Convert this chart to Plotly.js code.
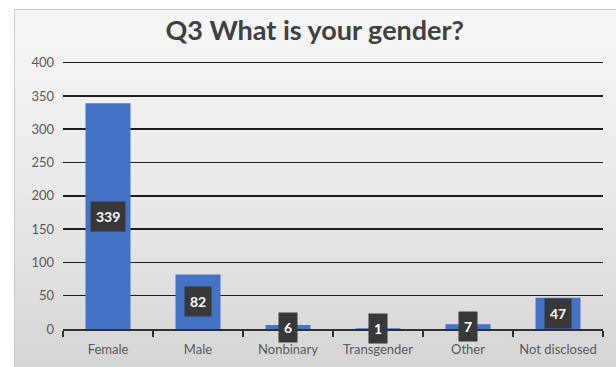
<!DOCTYPE html>
<html>
<head>
<meta charset="utf-8">
<script src="https://cdn.plot.ly/plotly-3.0.1.min.js"></script>
<style>
  html, body { margin: 0; padding: 0; background: #ffffff; width: 616px; height: 367px; overflow: hidden; }
  #panel { position: absolute; left: 14px; top: 9px; width: 616px; height: 370px;
           border-left: 1px solid #c9c9c9; border-top: 1px solid #c9c9c9;
           background: linear-gradient(to bottom, #f6f6f6 0%, #ebebeb 45%, #d4d4d4 100%); }
  #chart { position: absolute; left: 0; top: 0; width: 616px; height: 367px; }
</style>
</head>
<body>
<div id="panel"></div>
<div id="chart"></div>
<script>
const categories = ["Female", "Male", "Nonbinary", "Transgender", "Other", "Not disclosed"];
const counts = [339, 82, 6, 1, 7, 47];
const yTicks = [0, 50, 100, 150, 200, 250, 300, 350, 400];

const trace = {
  type: "bar",
  x: categories,
  y: counts,
  marker: { color: "#4472C4" },
  hoverinfo: "none"
};

const annotations = categories.map((c, i) => ({
  x: c,
  y: counts[i] / 2,
  xref: "x",
  yref: "y",
  text: "<b>" + counts[i] + "</b>",
  showarrow: false,
  font: { family: "Lato, 'Open Sans', sans-serif", size: 14, color: "#ffffff" },
  bgcolor: "#383838",
  height: 19,
  borderpad: 5
}));

const layout = {
  width: 616,
  height: 367,
  paper_bgcolor: "rgba(0,0,0,0)",
  plot_bgcolor: "rgba(0,0,0,0)",
  margin: { l: 63, r: 13, t: 56, b: 38 },
  title: {
    text: "<b>Q3 What is your gender?</b>",
    font: { family: "Lato, 'Open Sans', sans-serif", size: 27, color: "#404040" },
    x: 0.511,
    xanchor: "center",
    y: 0.918,
    yanchor: "middle"
  },
  bargap: 0.5,
  showlegend: false,
  xaxis: {
    type: "category",
    showline: true,
    linecolor: "#303030",
    linewidth: 2,
    ticks: "outside",
    tickson: "boundaries",
    ticklen: 6,
    tickwidth: 2,
    tickcolor: "#303030",
    showgrid: false,
    ticklabelstandoff: 7,
    tickfont: { family: "Lato, 'Open Sans', sans-serif", size: 13, color: "#595959" }
  },
  yaxis: {
    range: [0, 410],
    tickvals: yTicks,
    ticktext: yTicks.map(String),
    showgrid: true,
    gridcolor: "#1e1e1e",
    gridwidth: 1.5,
    zeroline: false,
    showline: false,
    ticks: "",
    ticklabelstandoff: 8,
    tickfont: { family: "Lato, 'Open Sans', sans-serif", size: 13, color: "#595959" }
  },
  annotations: annotations
};

Plotly.newPlot("chart", [trace], layout, { displayModeBar: false, staticPlot: true });
</script>
</body>
</html>
